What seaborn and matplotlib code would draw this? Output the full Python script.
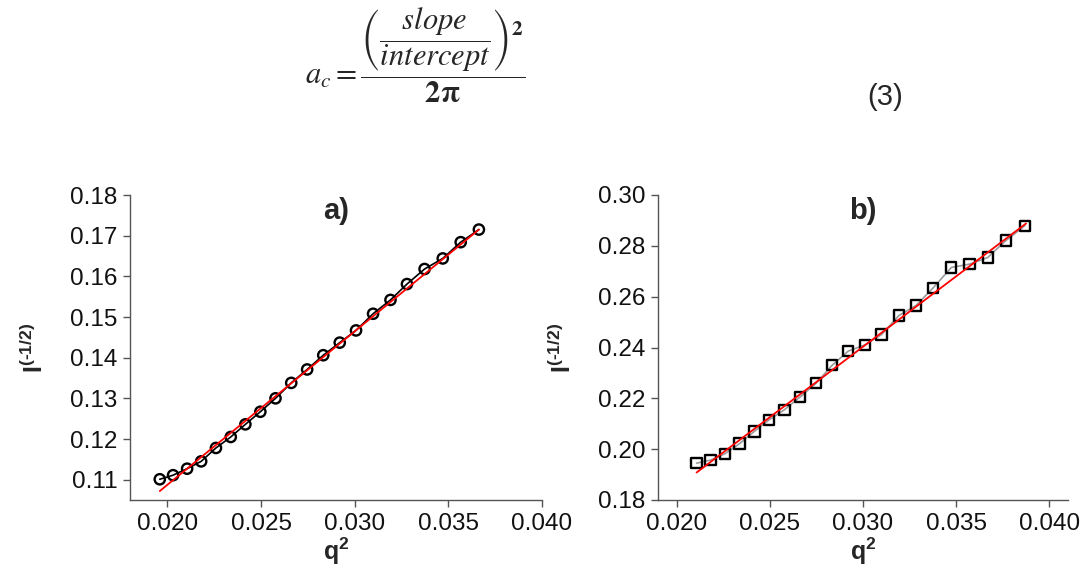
import numpy as np
import pandas as pd
import matplotlib
matplotlib.use("Agg")
import matplotlib.pyplot as plt
import seaborn as sns

# data
q2_a = [0.01959, 0.0203, 0.02105, 0.0218, 0.02259, 0.02338, 0.02416, 0.02496, 0.02577,
        0.02661, 0.02746, 0.02832, 0.0292, 0.03007, 0.03098, 0.03191, 0.03279, 0.03373,
        0.0347, 0.03566, 0.03663]
inv_a = [0.1101, 0.1111, 0.1127, 0.1145, 0.1178, 0.1205, 0.1236, 0.1267, 0.1300,
         0.1338, 0.1371, 0.1406, 0.1437, 0.1467, 0.1508, 0.1542, 0.1581, 0.1618,
         0.1644, 0.1684, 0.1715]
fit_a_q2 = [0.01959, 0.03663]
fit_a_inv = [0.1072, 0.1715]

q2_b = [0.02107, 0.02182, 0.02259, 0.02338, 0.02417, 0.02497, 0.02578, 0.02662, 0.02748,
        0.02834, 0.02921, 0.03009, 0.0310, 0.03193, 0.03284, 0.03377, 0.03474, 0.03572,
        0.03669, 0.03767, 0.03868]
inv_b = [0.1945, 0.1957, 0.1982, 0.2022, 0.2070, 0.2116, 0.2155, 0.2205, 0.2259,
         0.2330, 0.2386, 0.2410, 0.2451, 0.2526, 0.2565, 0.2635, 0.2715, 0.2728,
         0.2754, 0.2821, 0.2879]
fit_b_q2 = [0.02107, 0.03875]
fit_b_inv = [0.1908, 0.2888]

xticks_a = [0.020, 0.025, 0.030, 0.035, 0.040]
yticks_a = [0.11, 0.12, 0.13, 0.14, 0.15, 0.16, 0.17, 0.18]
xticks_b = [0.020, 0.025, 0.030, 0.035, 0.040]
yticks_b = [0.18, 0.20, 0.22, 0.24, 0.26, 0.28, 0.30]

sns.set_theme(style="ticks")
plt.rcParams['font.family'] = ['Liberation Sans', 'DejaVu Sans']
plt.rcParams['axes.unicode_minus'] = False
plt.rcParams['mathtext.fontset'] = 'custom'
plt.rcParams['mathtext.rm'] = 'Liberation Sans'
plt.rcParams['mathtext.it'] = 'Liberation Sans:italic'
plt.rcParams['mathtext.bf'] = 'Liberation Sans:bold'

fig = plt.figure(figsize=(10.85, 5.79), dpi=100)
ax_a = fig.add_axes([130 / 1085, 1 - 500 / 579, 412 / 1085, 305 / 579])
ax_b = fig.add_axes([658 / 1085, 1 - 500 / 579, 410 / 1085, 305 / 579])

ylabel = '$\\mathbf{I^{(' + '\u2010' + '1/2)}}$'


def draw_panel(ax, q2, inv, fq2, finv, marker, link_color, title, xlim, ylim, xt, yt):
    df = pd.DataFrame({'q2': q2, 'inv': inv})
    fit = pd.DataFrame({'q2': fq2, 'inv': finv})
    sns.lineplot(data=df, x='q2', y='inv', ax=ax, color=link_color, lw=1.2, sort=False, zorder=2)
    sns.scatterplot(data=df, x='q2', y='inv', ax=ax, marker=marker, s=55,
                    facecolor='none', edgecolor='black', linewidth=1.7, zorder=3)
    sns.lineplot(data=fit, x='q2', y='inv', ax=ax, color='red', lw=1.3, zorder=4)
    ax.set_xlim(*xlim)
    ax.set_ylim(*ylim)
    ax.set_xticks(xt)
    ax.set_yticks(yt)
    ax.set_xticklabels(['%.3f' % v for v in xt])
    ax.set_yticklabels(['%.2f' % v for v in yt])
    ax.tick_params(direction='out', length=5, width=1, color='#555555',
                   labelsize=17.5, labelcolor='#111111', pad=4)
    for s in ['top', 'right']:
        ax.spines[s].set_visible(False)
    for s in ['left', 'bottom']:
        ax.spines[s].set_color('#555555')
        ax.spines[s].set_linewidth(1)
    ax.set_xlabel(r'$\mathbf{q^{2}}$', fontsize=18, labelpad=1)
    ax.set_ylabel(ylabel, fontsize=18, labelpad=16)
    ax.text(0.5, 0.995, title, transform=ax.transAxes, ha='center', va='top',
            fontsize=21, fontweight='bold')


draw_panel(ax_a, q2_a, inv_a, fit_a_q2, fit_a_inv, 'o', 'black', 'a)',
           (0.018, 0.040), (0.105, 0.18), xticks_a, yticks_a)
draw_panel(ax_b, q2_b, inv_b, fit_b_q2, fit_b_inv, 's', '#999999', 'b)',
           (0.019, 0.041), (0.18, 0.30), xticks_b, yticks_b)

fig.text(415 / 1085, 1 - 55 / 579,
         r'$a_c = \dfrac{\left(\dfrac{slope}{intercept}\right)^{\mathbf{2}}}{\mathbf{2\pi}}$',
         math_fontfamily='stix', fontsize=22, ha='center', va='center')
fig.text(885 / 1085, 1 - 97 / 579, '(3)', fontsize=21, ha='center', va='center')

fig.savefig('out.png', dpi=100)
